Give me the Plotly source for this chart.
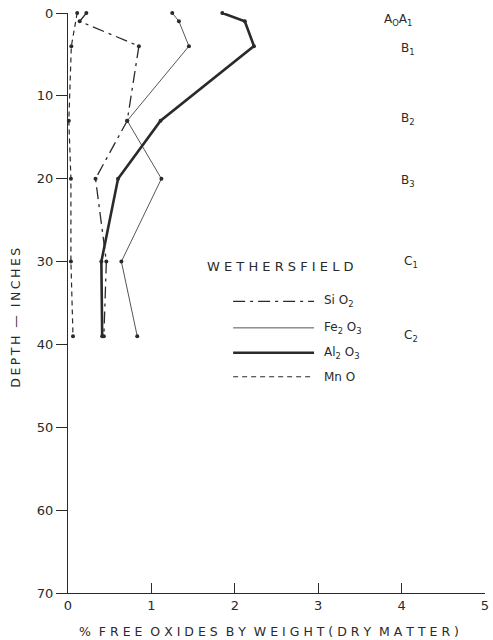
import plotly.graph_objects as go

# Data
depth_sio2 = [0, 1, 4, 13, 20, 30, 39]
sio2 = [0.22, 0.14, 0.85, 0.71, 0.33, 0.46, 0.43]

depth_fe = [0, 1, 4, 13, 20, 30, 39]
fe2o3 = [1.25, 1.33, 1.45, 0.71, 1.12, 0.64, 0.83]

depth_al = [0, 1, 4, 13, 20, 30, 39]
al2o3 = [1.85, 2.12, 2.23, 1.11, 0.60, 0.40, 0.41]

depth_mn = [0, 4, 13, 20, 30, 39]
mno = [0.11, 0.04, 0.01, 0.035, 0.035, 0.06]

horizons = ["A<sub>O</sub>A<sub>1</sub>", "B<sub>1</sub>", "B<sub>2</sub>", "B<sub>3</sub>", "C<sub>1</sub>", "C<sub>2</sub>"]
horizon_depths = [0.9, 4.3, 12.8, 20.3, 30.0, 39.0]

legend_names = ["Si O<sub>2</sub>", "Fe<sub>2</sub> O<sub>3</sub>", "Al<sub>2</sub> O<sub>3</sub>", "Mn O"]

x_ticks = [0, 1, 2, 3, 4, 5]
y_ticks = [0, 10, 20, 30, 40, 50, 60, 70]

x_title = "% FREE OXIDES BY WEIGHT(DRY MATTER)"
y_title = "DEPTH — INCHES"
chart_title = "WETHERSFIELD"

INK = "#2a2a2a"
FONT = "DejaVu Sans"


def spaced(s, sep=" "):
    words = s.split(" ")
    return "  ".join(sep.join(list(w)) for w in words)


styles = [
    dict(width=1.3, dash="12px,5px,3px,5px", color=INK),
    dict(width=1.0, dash="solid", color="#555555"),
    dict(width=2.6, dash="solid", color=INK),
    dict(width=1.2, dash="5px,4px", color=INK),
]
series = [(sio2, depth_sio2), (fe2o3, depth_fe), (al2o3, depth_al), (mno, depth_mn)]

fig = go.Figure()
for (xs, ys), st, nm in zip(series, styles, legend_names):
    fig.add_trace(go.Scatter(
        x=xs, y=ys, mode="lines+markers", name=nm,
        line=st, marker=dict(size=4, color=INK),
        showlegend=False, cliponaxis=False,
    ))

# Horizon labels
h_x = [3.77, 3.97, 3.97, 3.97, 4.0, 4.0]
for lab, d, hx in zip(horizons, horizon_depths, h_x):
    fig.add_annotation(x=hx, y=d, text=lab, showarrow=False, xanchor="left",
                       yanchor="middle", font=dict(family=FONT, size=12, color=INK))

# Custom legend
fig.add_annotation(x=2.55, y=30.6, text=spaced(chart_title), showarrow=False,
                   xanchor="center", yanchor="middle",
                   font=dict(family=FONT, size=13, color=INK))
leg_y = [34.8, 38.0, 41.0, 43.9]
for ly, st, nm in zip(leg_y, styles, legend_names):
    fig.add_shape(type="line", x0=1.98, x1=2.95, y0=ly, y1=ly, xref="x", yref="y",
                  line=dict(width=st["width"], dash=st["dash"], color=st["color"]))
    fig.add_annotation(x=3.05, y=ly, text=nm, showarrow=False, xanchor="left",
                       yanchor="middle", font=dict(family=FONT, size=12, color=INK))

# Axis titles
fig.add_annotation(xref="paper", yref="paper", x=0.482, y=-0.066, text=spaced(x_title),
                   showarrow=False, xanchor="center", yanchor="middle",
                   font=dict(family=FONT, size=12.5, color=INK))
fig.add_annotation(xref="paper", yref="paper", x=-0.128, y=0.474,
                   text=spaced(y_title, "\u2009"), textangle=-90,
                   showarrow=False, xanchor="center", yanchor="middle",
                   font=dict(family=FONT, size=12.5, color=INK))

fig.update_layout(
    width=493, height=640,
    margin=dict(l=68, r=4, t=13, b=47),
    paper_bgcolor="white", plot_bgcolor="white",
    font=dict(family=FONT, size=12, color=INK),
)
fig.update_xaxes(
    range=[0, 5], tickvals=x_ticks, ticks="inside", ticklen=10, tickwidth=1,
    tickcolor=INK, showline=True, linecolor=INK, linewidth=1.2, showgrid=False,
    zeroline=False, tickfont=dict(size=13), ticklabeloverflow="allow",
)
fig.update_yaxes(
    range=[70, 0], tickvals=y_ticks, ticks="outside", ticklen=11, tickwidth=1,
    tickcolor=INK, showline=True, linecolor=INK, linewidth=1.2, showgrid=False,
    zeroline=False, tickfont=dict(size=13), ticklabeloverflow="allow",
)

fig.write_html("out.html")
